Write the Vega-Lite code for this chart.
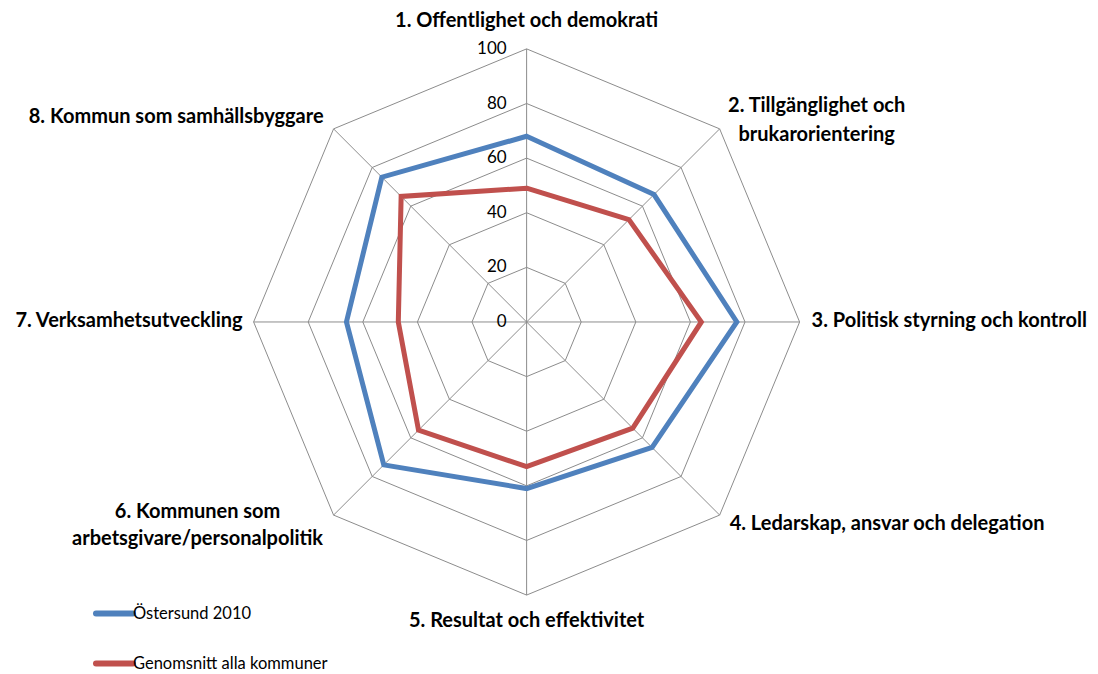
{
  "$schema": "https://vega.github.io/schema/vega-lite/v6.json",
  "width": 1098,
  "height": 674,
  "padding": 0,
  "autosize": {"type": "none"},
  "background": "white",
  "config": {"view": {"stroke": null}, "font": "Lato"},
  "datasets": {
    "axes": [
      {"axis": 1, "label": "1. Offentlighet och demokrati"},
      {"axis": 2, "label": ["2. Tillgänglighet och", "brukarorientering"]},
      {"axis": 3, "label": "3. Politisk styrning och kontroll"},
      {"axis": 4, "label": "4. Ledarskap, ansvar och delegation"},
      {"axis": 5, "label": "5. Resultat och effektivitet"},
      {"axis": 6, "label": ["6. Kommunen som", "arbetsgivare/personalpolitik"]},
      {"axis": 7, "label": "7. Verksamhetsutveckling"},
      {"axis": 8, "label": "8. Kommun som samhällsbyggare"}
    ],
    "rings": [
      {"level": 20, "axes": [1, 2, 3, 4, 5, 6, 7, 8]},
      {"level": 40, "axes": [1, 2, 3, 4, 5, 6, 7, 8]},
      {"level": 60, "axes": [1, 2, 3, 4, 5, 6, 7, 8]},
      {"level": 80, "axes": [1, 2, 3, 4, 5, 6, 7, 8]},
      {"level": 100, "axes": [1, 2, 3, 4, 5, 6, 7, 8]}
    ],
    "ticks": [
      {"level": 0}, {"level": 20}, {"level": 40}, {"level": 60}, {"level": 80}, {"level": 100}
    ],
    "scores": [
      {"series": "Östersund 2010", "axis": 1, "value": 68},
      {"series": "Östersund 2010", "axis": 2, "value": 66},
      {"series": "Östersund 2010", "axis": 3, "value": 77},
      {"series": "Östersund 2010", "axis": 4, "value": 65},
      {"series": "Östersund 2010", "axis": 5, "value": 61},
      {"series": "Östersund 2010", "axis": 6, "value": 74},
      {"series": "Östersund 2010", "axis": 7, "value": 66},
      {"series": "Östersund 2010", "axis": 8, "value": 75},
      {"series": "Genomsnitt alla kommuner", "axis": 1, "value": 49},
      {"series": "Genomsnitt alla kommuner", "axis": 2, "value": 53},
      {"series": "Genomsnitt alla kommuner", "axis": 3, "value": 64},
      {"series": "Genomsnitt alla kommuner", "axis": 4, "value": 55},
      {"series": "Genomsnitt alla kommuner", "axis": 5, "value": 53},
      {"series": "Genomsnitt alla kommuner", "axis": 6, "value": 56},
      {"series": "Genomsnitt alla kommuner", "axis": 7, "value": 47},
      {"series": "Genomsnitt alla kommuner", "axis": 8, "value": 65}
    ]
  },
  "encoding": {
    "x": {"field": "px", "type": "quantitative", "scale": {"domain": [-192.9, 209.3], "nice": false, "zero": false}, "axis": null},
    "y": {"field": "py", "type": "quantitative", "scale": {"domain": [-128.9, 117.9], "nice": false, "zero": false}, "axis": null}
  },
  "layer": [
    {
      "data": {"name": "rings"},
      "transform": [
        {"flatten": ["axes"]},
        {"calculate": "datum.level * sin((datum.axes - 1) * PI / 4)", "as": "px"},
        {"calculate": "datum.level * cos((datum.axes - 1) * PI / 4)", "as": "py"}
      ],
      "mark": {"type": "line", "interpolate": "linear-closed", "stroke": "#8c8c8c", "strokeWidth": 1},
      "encoding": {
        "detail": {"field": "level", "type": "nominal"},
        "order": {"field": "axes", "type": "quantitative"}
      }
    },
    {
      "data": {"name": "axes"},
      "transform": [
        {"calculate": "100 * sin((datum.axis - 1) * PI / 4)", "as": "px"},
        {"calculate": "100 * cos((datum.axis - 1) * PI / 4)", "as": "py"}
      ],
      "mark": {"type": "rule", "stroke": "#8c8c8c", "strokeWidth": 1},
      "encoding": {
        "x2": {"datum": 0},
        "y2": {"datum": 0}
      }
    },
    {
      "data": {"name": "ticks"},
      "transform": [
        {"calculate": "0", "as": "px"},
        {"calculate": "datum.level", "as": "py"}
      ],
      "mark": {"type": "text", "align": "right", "baseline": "middle", "dx": -20, "fontSize": 17, "font": "Lato", "color": "black"},
      "encoding": {"text": {"field": "level", "type": "quantitative"}}
    },
    {
      "data": {"name": "scores"},
      "transform": [
        {"calculate": "datum.value * sin((datum.axis - 1) * PI / 4)", "as": "px"},
        {"calculate": "datum.value * cos((datum.axis - 1) * PI / 4)", "as": "py"}
      ],
      "mark": {"type": "line", "interpolate": "linear-closed", "strokeWidth": 5},
      "encoding": {
        "color": {
          "field": "series",
          "type": "nominal",
          "scale": {"domain": ["Östersund 2010", "Genomsnitt alla kommuner"], "range": ["#4F81BD", "#C0504D"]},
          "legend": {
            "orient": "none",
            "legendX": 93,
            "legendY": 592,
            "title": null,
            "symbolType": "stroke",
            "symbolSize": 1369,
            "symbolStrokeWidth": 6,
            "labelFont": "Lato",
            "labelFontSize": 16.5,
            "labelColor": "black",
            "labelOffset": -3,
            "labelLimit": 500,
            "rowPadding": 16,
            "padding": 0,
            "encode": {"symbols": {"update": {"strokeCap": {"value": "round"}}}}
          }
        },
        "order": {"field": "axis", "type": "quantitative"}
      }
    },
    {
      "data": {"name": "axes"},
      "transform": [
        {"filter": "datum.axis == 1"},
        {"calculate": "100 * sin((datum.axis - 1) * PI / 4)", "as": "px"},
        {"calculate": "100 * cos((datum.axis - 1) * PI / 4)", "as": "py"}
      ],
      "mark": {"type": "text", "align": "center", "baseline": "alphabetic", "dy": -22, "fontSize": 20, "fontWeight": "bold", "font": "Lato", "color": "black"},
      "encoding": {"text": {"field": "label"}}
    },
    {
      "data": {"name": "axes"},
      "transform": [
        {"filter": "datum.axis == 2"},
        {"calculate": "100 * sin((datum.axis - 1) * PI / 4)", "as": "px"},
        {"calculate": "100 * cos((datum.axis - 1) * PI / 4)", "as": "py"}
      ],
      "mark": {"type": "text", "align": "center", "baseline": "alphabetic", "dx": 97, "dy": -17, "lineHeight": 29, "fontSize": 20, "fontWeight": "bold", "font": "Lato", "color": "black"},
      "encoding": {"text": {"field": "label"}}
    },
    {
      "data": {"name": "axes"},
      "transform": [
        {"filter": "datum.axis == 3"},
        {"calculate": "100 * sin((datum.axis - 1) * PI / 4)", "as": "px"},
        {"calculate": "100 * cos((datum.axis - 1) * PI / 4)", "as": "py"}
      ],
      "mark": {"type": "text", "align": "left", "baseline": "alphabetic", "dx": 12, "dy": 5, "fontSize": 20, "fontWeight": "bold", "font": "Lato", "color": "black"},
      "encoding": {"text": {"field": "label"}}
    },
    {
      "data": {"name": "axes"},
      "transform": [
        {"filter": "datum.axis == 4"},
        {"calculate": "100 * sin((datum.axis - 1) * PI / 4)", "as": "px"},
        {"calculate": "100 * cos((datum.axis - 1) * PI / 4)", "as": "py"}
      ],
      "mark": {"type": "text", "align": "left", "baseline": "alphabetic", "dx": 10, "dy": 15, "fontSize": 20, "fontWeight": "bold", "font": "Lato", "color": "black"},
      "encoding": {"text": {"field": "label"}}
    },
    {
      "data": {"name": "axes"},
      "transform": [
        {"filter": "datum.axis == 5"},
        {"calculate": "100 * sin((datum.axis - 1) * PI / 4)", "as": "px"},
        {"calculate": "100 * cos((datum.axis - 1) * PI / 4)", "as": "py"}
      ],
      "mark": {"type": "text", "align": "center", "baseline": "alphabetic", "dy": 32, "fontSize": 20, "fontWeight": "bold", "font": "Lato", "color": "black"},
      "encoding": {"text": {"field": "label"}}
    },
    {
      "data": {"name": "axes"},
      "transform": [
        {"filter": "datum.axis == 6"},
        {"calculate": "100 * sin((datum.axis - 1) * PI / 4)", "as": "px"},
        {"calculate": "100 * cos((datum.axis - 1) * PI / 4)", "as": "py"}
      ],
      "mark": {"type": "text", "align": "center", "baseline": "alphabetic", "dx": -136, "dy": 3, "lineHeight": 27, "fontSize": 20, "fontWeight": "bold", "font": "Lato", "color": "black"},
      "encoding": {"text": {"field": "label"}}
    },
    {
      "data": {"name": "axes"},
      "transform": [
        {"filter": "datum.axis == 7"},
        {"calculate": "100 * sin((datum.axis - 1) * PI / 4)", "as": "px"},
        {"calculate": "100 * cos((datum.axis - 1) * PI / 4)", "as": "py"}
      ],
      "mark": {"type": "text", "align": "right", "baseline": "alphabetic", "dx": -11, "dy": 5, "fontSize": 20, "fontWeight": "bold", "font": "Lato", "color": "black"},
      "encoding": {"text": {"field": "label"}}
    },
    {
      "data": {"name": "axes"},
      "transform": [
        {"filter": "datum.axis == 8"},
        {"calculate": "100 * sin((datum.axis - 1) * PI / 4)", "as": "px"},
        {"calculate": "100 * cos((datum.axis - 1) * PI / 4)", "as": "py"}
      ],
      "mark": {"type": "text", "align": "right", "baseline": "alphabetic", "dx": -10, "dy": -6, "fontSize": 20, "fontWeight": "bold", "font": "Lato", "color": "black"},
      "encoding": {"text": {"field": "label"}}
    }
  ]
}
